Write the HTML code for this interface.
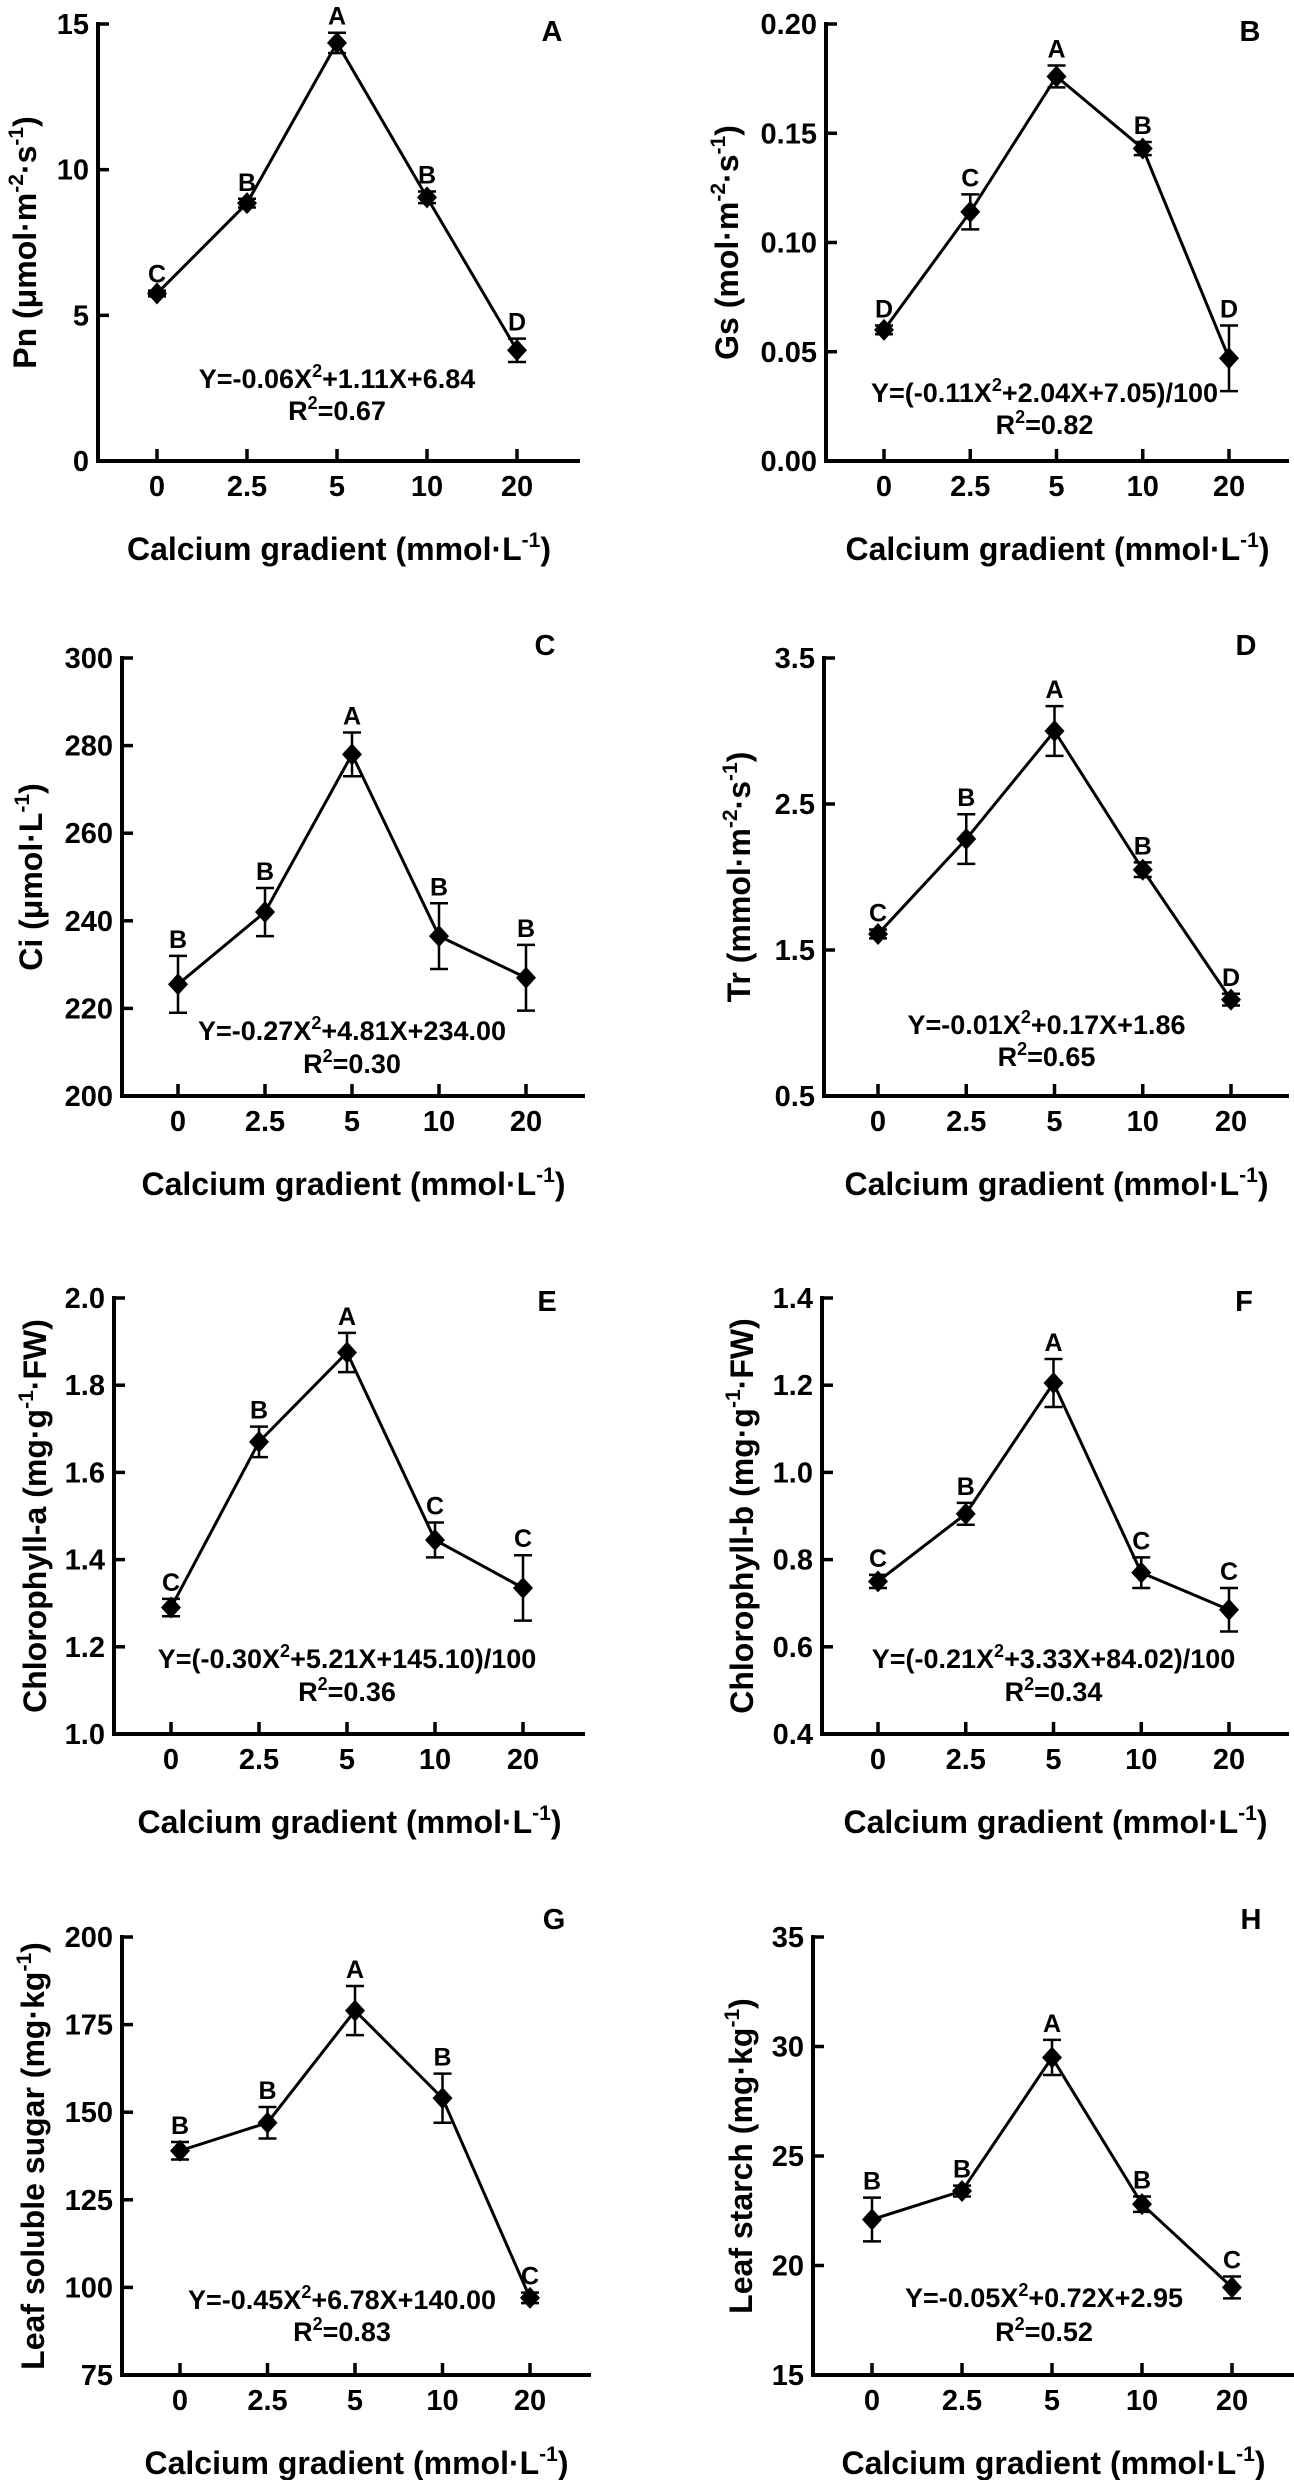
<!DOCTYPE html>
<html><head><meta charset="utf-8"><style>
html,body{margin:0;padding:0;background:#fff;}
svg{display:block;font-family:"Liberation Sans",Arial,sans-serif;font-weight:bold;}
</style></head><body>
<svg id="fig" width="1294" height="2480" viewBox="0 0 1294 2480" xmlns="http://www.w3.org/2000/svg"></svg>
<script>
const categories = ['0','2.5','5','10','20'];

const pnValues = [5.75, 8.85, 14.35, 9.05, 3.8];
const pnErrors = [0.1, 0.15, 0.35, 0.2, 0.4];
const pnLetters = ['C','B','A','B','D'];
const pnTicks = ['0','5','10','15'];

const gsValues = [0.060, 0.114, 0.176, 0.143, 0.047];
const gsErrors = [0.002, 0.008, 0.005, 0.003, 0.015];
const gsLetters = ['D','C','A','B','D'];
const gsTicks = ['0.00','0.05','0.10','0.15','0.20'];

const ciValues = [225.5, 242, 278, 236.5, 227];
const ciErrors = [6.5, 5.5, 5, 7.5, 7.5];
const ciLetters = ['B','B','A','B','B'];
const ciTicks = ['200','220','240','260','280','300'];

const trValues = [1.61, 2.26, 3.0, 2.05, 1.16];
const trErrors = [0.03, 0.17, 0.17, 0.05, 0.04];
const trLetters = ['C','B','A','B','D'];
const trTicks = ['0.5','1.5','2.5','3.5'];

const chlaValues = [1.29, 1.67, 1.875, 1.445, 1.335];
const chlaErrors = [0.02, 0.035, 0.045, 0.04, 0.075];
const chlaLetters = ['C','B','A','C','C'];
const chlaTicks = ['1.0','1.2','1.4','1.6','1.8','2.0'];

const chlbValues = [0.75, 0.905, 1.205, 0.77, 0.685];
const chlbErrors = [0.015, 0.025, 0.055, 0.035, 0.05];
const chlbLetters = ['C','B','A','C','C'];
const chlbTicks = ['0.4','0.6','0.8','1.0','1.2','1.4'];

const sugarValues = [139, 147, 179, 154, 97];
const sugarErrors = [2.5, 4.5, 7, 7, 1.5];
const sugarLetters = ['B','B','A','B','C'];
const sugarTicks = ['75','100','125','150','175','200'];

const starchValues = [22.1, 23.4, 29.5, 22.8, 19.0];
const starchErrors = [1.0, 0.25, 0.8, 0.35, 0.5];
const starchLetters = ['B','B','A','B','C'];
const starchTicks = ['15','20','25','30','35'];

const NS = 'http://www.w3.org/2000/svg';
const svg = document.getElementById('fig');

function mk(tag, attrs, parent) {
  const e = document.createElementNS(NS, tag);
  for (const k in attrs) e.setAttribute(k, attrs[k]);
  (parent || svg).appendChild(e);
  return e;
}
function richText(el, str, size) {
  const parts = str.split('^');
  parts.forEach((p, i) => {
    if (!p) return;
    const t = document.createElementNS(NS, 'tspan');
    if (i % 2 === 1) {
      t.setAttribute('font-size', Math.round(size * 0.65));
      t.setAttribute('dy', -Math.round(size * 0.4));
    } else if (i > 0) {
      t.setAttribute('dy', Math.round(size * 0.4));
    }
    t.textContent = p;
    el.appendChild(t);
  });
}

function panel(cfg) {
  const g = mk('g', {});
  
  
  const ticks = cfg.ticks;
  const ymin = parseFloat(ticks[0]), ymax = parseFloat(ticks[ticks.length - 1]);
  const yS = v => cfg.bot - (v - ymin) / (ymax - ymin) * (cfg.bot - cfg.top);
  const xS = i => cfg.xf + i * (cfg.xl - cfg.xf) / (categories.length - 1);

  // axes
  const ax = mk('path', {d: `M${cfg.ax},${cfg.top - 2}V${cfg.bot}H${cfg.xend}`, fill: 'none', stroke: '#000', 'stroke-width': 4}, g);
  
  

  ticks.forEach(t => {
    const y = yS(parseFloat(t));
    const tk = mk('line', {x1: cfg.ax, x2: cfg.ax + 11, y1: y, y2: y, stroke: '#000', 'stroke-width': 3.5}, g);
    
    
    const lb = mk('text', {x: cfg.ax - 9, y: y + 10, 'text-anchor': 'end', 'font-size': 29}, g);
    lb.textContent = t;
    
    
  });
  categories.forEach((c, i) => {
    const x = xS(i);
    const tk = mk('line', {x1: x, x2: x, y1: cfg.bot, y2: cfg.bot - 12, stroke: '#000', 'stroke-width': 3.5}, g);
    
    
    const lb = mk('text', {x: x, y: cfg.bot + 35, 'text-anchor': 'middle', 'font-size': 29}, g);
    lb.textContent = c;
    
    
  });

  // line
  const pts = cfg.values.map((v, i) => `${xS(i)},${yS(v)}`).join(' ');
  const pl = mk('polyline', {points: pts, fill: 'none', stroke: '#000', 'stroke-width': 3}, g);
  
  

  cfg.values.forEach((v, i) => {
    const x = xS(i), y = yS(v), e = cfg.errors[i];
    const yt = yS(v + e), yb = yS(v - e);
    const eb = mk('path', {d: `M${x},${yt}V${yb}M${x - 9},${yt}H${x + 9}M${x - 9},${yb}H${x + 9}`, stroke: '#000', 'stroke-width': 2.5, fill: 'none'}, g);
    
    
    const m = mk('path', {d: `M${x},${y - 11}L${x + 10},${y}L${x},${y + 11}L${x - 10},${y}Z`, fill: '#000'}, g);
    
    
    const lt = mk('text', {x: x, y: yt - 8, 'text-anchor': 'middle', 'font-size': 25}, g);
    lt.textContent = cfg.letters[i];
    
    
  });

  // titles
  const cx = (cfg.ax + cfg.xend) / 2;
  const xt = mk('text', {x: cx, y: cfg.bot + 99, 'text-anchor': 'middle', 'font-size': 32}, g);
  richText(xt, 'Calcium gradient (mmol·L^-1^)', 32);
  
  

  const cy = (cfg.top + cfg.bot) / 2;
  const yt = mk('text', {x: 0, y: 0, 'text-anchor': 'middle', 'font-size': 32, transform: `translate(${cfg.ylx},${cy}) rotate(-90)`}, g);
  richText(yt, cfg.ytitle, 32);
  
  

  const pl2 = mk('text', {x: cfg.lx, y: cfg.ly, 'text-anchor': 'middle', 'font-size': 29}, g);
  pl2.textContent = cfg.id;
  
  

  const ex = (cfg.xf + cfg.xl) / 2 + (cfg.eqdx || 0);
  const e1 = mk('text', {x: ex, y: cfg.bot - cfg.eq1 + 9, 'text-anchor': 'middle', 'font-size': 27}, g);
  richText(e1, cfg.eq, 27);
  
  
  const e2 = mk('text', {x: ex, y: cfg.bot - cfg.eq2 + 9, 'text-anchor': 'middle', 'font-size': 27}, g);
  richText(e2, cfg.r2, 27);
  
  
}

panel({id:'A', values:pnValues, errors:pnErrors, letters:pnLetters, ticks:pnTicks,
  ax:98, top:24, bot:461, xf:157, xl:517, xend:580, ylx:36, lx:552, ly:41,
  ytitle:'Pn (μmol·m^-2^·s^-1^)', eq:'Y=-0.06X^2^+1.11X+6.84', r2:'R^2^=0.67', eq1:82, eq2:50});
panel({id:'B', values:gsValues, errors:gsErrors, letters:gsLetters, ticks:gsTicks,
  ax:826, top:24, bot:461, xf:884, xl:1229, xend:1289, ylx:738, lx:1250, ly:41,
  ytitle:'Gs (mol·m^-2^·s^-1^)', eq:'Y=(-0.11X^2^+2.04X+7.05)/100', r2:'R^2^=0.82', eq1:68, eq2:36, eqdx:-12});
panel({id:'C', values:ciValues, errors:ciErrors, letters:ciLetters, ticks:ciTicks,
  ax:122, top:658, bot:1096, xf:178, xl:526, xend:585, ylx:42, lx:545, ly:655,
  ytitle:'Ci (μmol·L^-1^)', eq:'Y=-0.27X^2^+4.81X+234.00', r2:'R^2^=0.30', eq1:65, eq2:32});
panel({id:'D', values:trValues, errors:trErrors, letters:trLetters, ticks:trTicks,
  ax:824, top:658, bot:1096, xf:878, xl:1231, xend:1289, ylx:750, lx:1246, ly:655,
  ytitle:'Tr (mmol·m^-2^·s^-1^)', eq:'Y=-0.01X^2^+0.17X+1.86', r2:'R^2^=0.65', eq1:71, eq2:39, eqdx:-8});
panel({id:'E', values:chlaValues, errors:chlaErrors, letters:chlaLetters, ticks:chlaTicks,
  ax:114, top:1298, bot:1734, xf:171, xl:523, xend:585, ylx:46, lx:547, ly:1311,
  ytitle:'Chlorophyll-a (mg·g^-1^·FW)', eq:'Y=(-0.30X^2^+5.21X+145.10)/100', r2:'R^2^=0.36', eq1:75, eq2:42});
panel({id:'F', values:chlbValues, errors:chlbErrors, letters:chlbLetters, ticks:chlbTicks,
  ax:822, top:1298, bot:1734, xf:878, xl:1229, xend:1289, ylx:753, lx:1244, ly:1311,
  ytitle:'Chlorophyll-b (mg·g^-1^·FW)', eq:'Y=(-0.21X^2^+3.33X+84.02)/100', r2:'R^2^=0.34', eq1:75, eq2:42});
panel({id:'G', values:sugarValues, errors:sugarErrors, letters:sugarLetters, ticks:sugarTicks,
  ax:122, top:1937, bot:2375, xf:180, xl:530, xend:591, ylx:44, lx:554, ly:1929,
  ytitle:'Leaf soluble sugar (mg·kg^-1^)', eq:'Y=-0.45X^2^+6.78X+140.00', r2:'R^2^=0.83', eq1:75, eq2:43, eqdx:-13});
panel({id:'H', values:starchValues, errors:starchErrors, letters:starchLetters, ticks:starchTicks,
  ax:813, top:1937, bot:2375, xf:872, xl:1232, xend:1294, ylx:752, lx:1251, ly:1929,
  ytitle:'Leaf starch (mg·kg^-1^)', eq:'Y=-0.05X^2^+0.72X+2.95', r2:'R^2^=0.52', eq1:77, eq2:43, eqdx:-8});
</script>
</body></html>
